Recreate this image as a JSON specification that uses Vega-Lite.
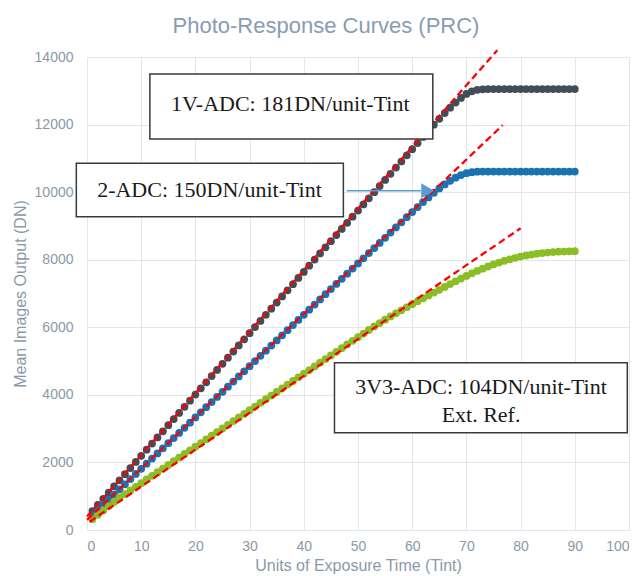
{
"$schema": "https://vega.github.io/schema/vega-lite/v6.json",
"width": 542, "height": 473,
"autosize": {"type": "none"},
"padding": {"left": 87, "top": 57, "right": 11, "bottom": 46},
"title": {"text": "Photo-Response Curves (PRC)", "font": "Liberation Sans", "fontSize": 22, "fontWeight": "normal", "color": "#8A9BB2", "anchor": "middle", "frame": "group", "dx": -32, "offset": 8},
"config": {"view": {"stroke": null}},
"datasets": {
"pts": [
{"s":"A","x":1,"y":562},{"s":"A","x":2,"y":743},{"s":"A","x":3,"y":925},{"s":"A","x":4,"y":1106},{"s":"A","x":5,"y":1288},{"s":"A","x":6,"y":1469},{"s":"A","x":7,"y":1651},{"s":"A","x":8,"y":1832},{"s":"A","x":9,"y":2014},{"s":"A","x":10,"y":2195},
{"s":"A","x":11,"y":2377},{"s":"A","x":12,"y":2558},{"s":"A","x":13,"y":2740},{"s":"A","x":14,"y":2921},{"s":"A","x":15,"y":3103},{"s":"A","x":16,"y":3284},{"s":"A","x":17,"y":3466},{"s":"A","x":18,"y":3647},{"s":"A","x":19,"y":3829},{"s":"A","x":20,"y":4010},
{"s":"A","x":21,"y":4192},{"s":"A","x":22,"y":4373},{"s":"A","x":23,"y":4555},{"s":"A","x":24,"y":4736},{"s":"A","x":25,"y":4918},{"s":"A","x":26,"y":5099},{"s":"A","x":27,"y":5281},{"s":"A","x":28,"y":5462},{"s":"A","x":29,"y":5644},{"s":"A","x":30,"y":5825},
{"s":"A","x":31,"y":6007},{"s":"A","x":32,"y":6188},{"s":"A","x":33,"y":6370},{"s":"A","x":34,"y":6551},{"s":"A","x":35,"y":6733},{"s":"A","x":36,"y":6914},{"s":"A","x":37,"y":7096},{"s":"A","x":38,"y":7277},{"s":"A","x":39,"y":7459},{"s":"A","x":40,"y":7640},
{"s":"A","x":41,"y":7822},{"s":"A","x":42,"y":8003},{"s":"A","x":43,"y":8185},{"s":"A","x":44,"y":8366},{"s":"A","x":45,"y":8548},{"s":"A","x":46,"y":8729},{"s":"A","x":47,"y":8911},{"s":"A","x":48,"y":9092},{"s":"A","x":49,"y":9274},{"s":"A","x":50,"y":9455},
{"s":"A","x":51,"y":9637},{"s":"A","x":52,"y":9818},{"s":"A","x":53,"y":10000},{"s":"A","x":54,"y":10181},{"s":"A","x":55,"y":10363},{"s":"A","x":56,"y":10544},{"s":"A","x":57,"y":10726},{"s":"A","x":58,"y":10907},{"s":"A","x":59,"y":11089},{"s":"A","x":60,"y":11270},
{"s":"A","x":61,"y":11452},{"s":"A","x":62,"y":11633},{"s":"A","x":63,"y":11815},{"s":"A","x":64,"y":11996},{"s":"A","x":65,"y":12170},{"s":"A","x":66,"y":12340},{"s":"A","x":67,"y":12500},{"s":"A","x":68,"y":12650},{"s":"A","x":69,"y":12790},{"s":"A","x":70,"y":12905},
{"s":"A","x":71,"y":12985},{"s":"A","x":72,"y":13030},{"s":"A","x":73,"y":13045},{"s":"A","x":74,"y":13050},{"s":"A","x":75,"y":13050},{"s":"A","x":76,"y":13050},{"s":"A","x":77,"y":13050},{"s":"A","x":78,"y":13050},{"s":"A","x":79,"y":13050},{"s":"A","x":80,"y":13050},
{"s":"A","x":81,"y":13050},{"s":"A","x":82,"y":13050},{"s":"A","x":83,"y":13050},{"s":"A","x":84,"y":13050},{"s":"A","x":85,"y":13050},{"s":"A","x":86,"y":13050},{"s":"A","x":87,"y":13050},{"s":"A","x":88,"y":13050},{"s":"A","x":89,"y":13050},{"s":"A","x":90,"y":13050},
{"s":"B","x":1,"y":442},{"s":"B","x":2,"y":594},{"s":"B","x":3,"y":746},{"s":"B","x":4,"y":898},{"s":"B","x":5,"y":1050},{"s":"B","x":6,"y":1202},{"s":"B","x":7,"y":1354},{"s":"B","x":8,"y":1506},{"s":"B","x":9,"y":1658},{"s":"B","x":10,"y":1810},
{"s":"B","x":11,"y":1962},{"s":"B","x":12,"y":2114},{"s":"B","x":13,"y":2266},{"s":"B","x":14,"y":2418},{"s":"B","x":15,"y":2570},{"s":"B","x":16,"y":2722},{"s":"B","x":17,"y":2874},{"s":"B","x":18,"y":3026},{"s":"B","x":19,"y":3178},{"s":"B","x":20,"y":3330},
{"s":"B","x":21,"y":3482},{"s":"B","x":22,"y":3634},{"s":"B","x":23,"y":3786},{"s":"B","x":24,"y":3938},{"s":"B","x":25,"y":4090},{"s":"B","x":26,"y":4242},{"s":"B","x":27,"y":4394},{"s":"B","x":28,"y":4546},{"s":"B","x":29,"y":4698},{"s":"B","x":30,"y":4850},
{"s":"B","x":31,"y":5002},{"s":"B","x":32,"y":5154},{"s":"B","x":33,"y":5306},{"s":"B","x":34,"y":5458},{"s":"B","x":35,"y":5610},{"s":"B","x":36,"y":5762},{"s":"B","x":37,"y":5914},{"s":"B","x":38,"y":6066},{"s":"B","x":39,"y":6218},{"s":"B","x":40,"y":6370},
{"s":"B","x":41,"y":6522},{"s":"B","x":42,"y":6674},{"s":"B","x":43,"y":6826},{"s":"B","x":44,"y":6978},{"s":"B","x":45,"y":7130},{"s":"B","x":46,"y":7282},{"s":"B","x":47,"y":7434},{"s":"B","x":48,"y":7586},{"s":"B","x":49,"y":7738},{"s":"B","x":50,"y":7890},
{"s":"B","x":51,"y":8042},{"s":"B","x":52,"y":8194},{"s":"B","x":53,"y":8346},{"s":"B","x":54,"y":8498},{"s":"B","x":55,"y":8650},{"s":"B","x":56,"y":8802},{"s":"B","x":57,"y":8954},{"s":"B","x":58,"y":9106},{"s":"B","x":59,"y":9258},{"s":"B","x":60,"y":9410},
{"s":"B","x":61,"y":9560},{"s":"B","x":62,"y":9705},{"s":"B","x":63,"y":9845},{"s":"B","x":64,"y":9980},{"s":"B","x":65,"y":10108},{"s":"B","x":66,"y":10228},{"s":"B","x":67,"y":10335},{"s":"B","x":68,"y":10428},{"s":"B","x":69,"y":10505},{"s":"B","x":70,"y":10560},
{"s":"B","x":71,"y":10592},{"s":"B","x":72,"y":10605},{"s":"B","x":73,"y":10610},{"s":"B","x":74,"y":10610},{"s":"B","x":75,"y":10610},{"s":"B","x":76,"y":10610},{"s":"B","x":77,"y":10610},{"s":"B","x":78,"y":10610},{"s":"B","x":79,"y":10610},{"s":"B","x":80,"y":10610},
{"s":"B","x":81,"y":10610},{"s":"B","x":82,"y":10610},{"s":"B","x":83,"y":10610},{"s":"B","x":84,"y":10610},{"s":"B","x":85,"y":10610},{"s":"B","x":86,"y":10610},{"s":"B","x":87,"y":10610},{"s":"B","x":88,"y":10610},{"s":"B","x":89,"y":10610},{"s":"B","x":90,"y":10610},
{"s":"C","x":1,"y":320},{"s":"C","x":2,"y":450},{"s":"C","x":3,"y":578},{"s":"C","x":4,"y":705},{"s":"C","x":5,"y":830},{"s":"C","x":6,"y":955},{"s":"C","x":7,"y":1063},{"s":"C","x":8,"y":1171},{"s":"C","x":9,"y":1279},{"s":"C","x":10,"y":1387},
{"s":"C","x":11,"y":1495},{"s":"C","x":12,"y":1603},{"s":"C","x":13,"y":1711},{"s":"C","x":14,"y":1819},{"s":"C","x":15,"y":1927},{"s":"C","x":16,"y":2035},{"s":"C","x":17,"y":2143},{"s":"C","x":18,"y":2251},{"s":"C","x":19,"y":2359},{"s":"C","x":20,"y":2467},
{"s":"C","x":21,"y":2575},{"s":"C","x":22,"y":2683},{"s":"C","x":23,"y":2791},{"s":"C","x":24,"y":2899},{"s":"C","x":25,"y":3007},{"s":"C","x":26,"y":3115},{"s":"C","x":27,"y":3223},{"s":"C","x":28,"y":3331},{"s":"C","x":29,"y":3439},{"s":"C","x":30,"y":3547},
{"s":"C","x":31,"y":3655},{"s":"C","x":32,"y":3763},{"s":"C","x":33,"y":3871},{"s":"C","x":34,"y":3979},{"s":"C","x":35,"y":4087},{"s":"C","x":36,"y":4195},{"s":"C","x":37,"y":4303},{"s":"C","x":38,"y":4411},{"s":"C","x":39,"y":4519},{"s":"C","x":40,"y":4627},
{"s":"C","x":41,"y":4735},{"s":"C","x":42,"y":4843},{"s":"C","x":43,"y":4951},{"s":"C","x":44,"y":5059},{"s":"C","x":45,"y":5167},{"s":"C","x":46,"y":5275},{"s":"C","x":47,"y":5383},{"s":"C","x":48,"y":5491},{"s":"C","x":49,"y":5599},{"s":"C","x":50,"y":5707},
{"s":"C","x":51,"y":5815},{"s":"C","x":52,"y":5923},{"s":"C","x":53,"y":6025},{"s":"C","x":54,"y":6125},{"s":"C","x":55,"y":6225},{"s":"C","x":56,"y":6320},{"s":"C","x":57,"y":6412},{"s":"C","x":58,"y":6503},{"s":"C","x":59,"y":6593},{"s":"C","x":60,"y":6682},
{"s":"C","x":61,"y":6770},{"s":"C","x":62,"y":6857},{"s":"C","x":63,"y":6943},{"s":"C","x":64,"y":7028},{"s":"C","x":65,"y":7110},{"s":"C","x":66,"y":7195},{"s":"C","x":67,"y":7280},{"s":"C","x":68,"y":7362},{"s":"C","x":69,"y":7442},{"s":"C","x":70,"y":7520},
{"s":"C","x":71,"y":7596},{"s":"C","x":72,"y":7668},{"s":"C","x":73,"y":7736},{"s":"C","x":74,"y":7800},{"s":"C","x":75,"y":7860},{"s":"C","x":76,"y":7915},{"s":"C","x":77,"y":7966},{"s":"C","x":78,"y":8013},{"s":"C","x":79,"y":8055},{"s":"C","x":80,"y":8092},
{"s":"C","x":81,"y":8125},{"s":"C","x":82,"y":8153},{"s":"C","x":83,"y":8177},{"s":"C","x":84,"y":8197},{"s":"C","x":85,"y":8213},{"s":"C","x":86,"y":8226},{"s":"C","x":87,"y":8236},{"s":"C","x":88,"y":8243},{"s":"C","x":89,"y":8248},{"s":"C","x":90,"y":8252}
],
"fits": [
{"s":"A","x":0,"y":400},{"s":"A","x":75.7,"y":14200},
{"s":"B","x":0,"y":300},{"s":"B","x":76.7,"y":11985},
{"s":"C","x":0.5,"y":246},{"s":"C","x":80,"y":8930}
],
"boxes": [
{"x":11.6,"xe":63.8,"y":13495,"ye":11571},
{"x":-1.97,"xe":47.3,"y":10852,"ye":9272},
{"x":45.66,"xe":99.69,"y":4951,"ye":2880}
],
"labels": [
{"x":37.5,"y":12620,"t":"1V-ADC: 181DN/unit-Tint"},
{"x":22.6,"y":10062,"t":"2-ADC: 150DN/unit-Tint"},
{"x":72.7,"y":4223,"t":"3V3-ADC: 104DN/unit-Tint"},
{"x":72.7,"y":3403,"t":"Ext. Ref."}
],
"arrow": [{"x":47.9,"xe":61.6,"y":10041}],
"head": [{"x":62.85,"y":10041}]
},
"layer": [
{
"data": {"name": "pts"},
"mark": {"type": "point", "shape": "circle", "filled": true, "size": 60, "opacity": 1},
"encoding": {
"x": {"field": "x", "type": "quantitative", "scale": {"domain": [0, 100], "nice": false},
"axis": {"values": [0,10,20,30,40,50,60,70,80,90,100], "grid": true, "gridColor": "#E3E7EB", "domain": false, "ticks": false, "tickSize": 0, "labelPadding": 9, "labelFont": "Liberation Sans", "labelFontSize": 14, "labelColor": "#8A99A8", "title": "Units of Exposure Time (Tint)", "titleFont": "Liberation Sans", "titleFontSize": 16, "titleFontWeight": "normal", "titleColor": "#8A99A8", "titlePadding": 4}},
"y": {"field": "y", "type": "quantitative", "scale": {"domain": [0, 14000], "nice": false},
"axis": {"values": [0,2000,4000,6000,8000,10000,12000,14000], "format": "d", "grid": true, "gridColor": "#E3E7EB", "domain": false, "ticks": false, "tickSize": 0, "labelPadding": 14, "labelFont": "Liberation Sans", "labelFontSize": 14, "labelColor": "#8A99A8", "title": "Mean Images Output (DN)", "titleFont": "Liberation Sans", "titleFontSize": 16, "titleFontWeight": "normal", "titleColor": "#8A99A8", "titlePadding": 6}},
"color": {"field": "s", "type": "nominal", "scale": {"domain": ["A","B","C"], "range": ["#434D57", "#1B72B2", "#8BBE26"]}, "legend": null}
}
},
{
"data": {"name": "fits"},
"mark": {"type": "line", "color": "#FF0000", "strokeDash": [7, 4], "strokeWidth": 2.3},
"encoding": {
"x": {"field": "x", "type": "quantitative"},
"y": {"field": "y", "type": "quantitative"},
"detail": {"field": "s"}
}
},
{
"data": {"name": "boxes"},
"mark": {"type": "rect", "fill": "#FFFFFF", "stroke": "#3A3A3A", "strokeWidth": 1.5},
"encoding": {
"x": {"field": "x", "type": "quantitative"},
"x2": {"field": "xe"},
"y": {"field": "y", "type": "quantitative"},
"y2": {"field": "ye"}
}
},
{
"data": {"name": "labels"},
"mark": {"type": "text", "font": "Liberation Serif", "fontSize": 22, "color": "#1A1A1A", "align": "center", "baseline": "middle"},
"encoding": {
"x": {"field": "x", "type": "quantitative"},
"y": {"field": "y", "type": "quantitative"},
"text": {"field": "t"}
}
},
{
"data": {"name": "arrow"},
"mark": {"type": "rule", "color": "#5B9BD5", "strokeWidth": 1.5},
"encoding": {
"x": {"field": "x", "type": "quantitative"},
"x2": {"field": "xe"},
"y": {"field": "y", "type": "quantitative"}
}
},
{
"data": {"name": "head"},
"mark": {"type": "point", "shape": "triangle-right", "filled": true, "color": "#5B9BD5", "size": 220, "opacity": 1},
"encoding": {
"x": {"field": "x", "type": "quantitative"},
"y": {"field": "y", "type": "quantitative"}
}
}
]
}
